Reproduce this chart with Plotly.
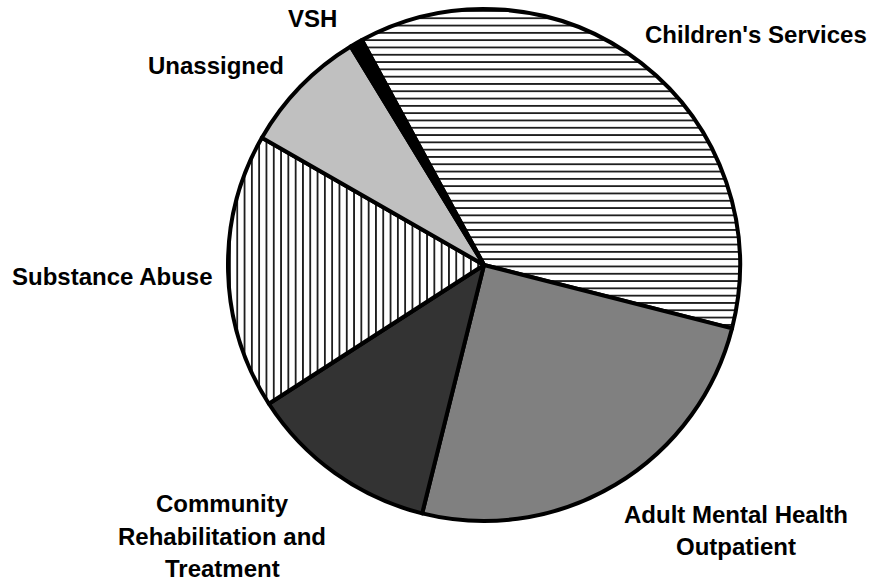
import plotly.graph_objects as go

categories = ["Children's Services", "Adult Mental Health Outpatient",
              "Community Rehabilitation and Treatment", "Substance Abuse",
              "Unassigned", "VSH"]
values = [36.9, 24.9, 12.0, 17.4, 8.0, 0.8]
label_lines = [["Children's Services"], ["Adult Mental Health", "Outpatient"],
               ["Community", "Rehabilitation and", "Treatment"], ["Substance Abuse"],
               ["Unassigned"], ["VSH"]]
fill_colors = ["white", "#808080", "#333333", "white", "#c0c0c0", "black"]
patterns = ["-", "", "", "|", "", ""]

W, H = 876, 582
cx, cy, r = 484, 265, 256

fig = go.Figure(go.Pie(
    labels=categories,
    values=values,
    sort=False,
    direction="clockwise",
    rotation=331.5,
    textinfo="none",
    hoverinfo="label+percent",
    showlegend=False,
    marker=dict(
        colors=fill_colors,
        line=dict(color="black", width=4),
        pattern=dict(shape=patterns, fgcolor="black", bgcolor=fill_colors,
                     size=7.3, solidity=0.22, fillmode="replace"),
    ),
    domain=dict(x=[(cx - r) / W, (cx + r) / W], y=[(H - cy - r) / H, (H - cy + r) / H]),
))

# label line positions (pixel centres) for each category's label lines
line_pos = [[(756, 34)], [(736, 514), (736, 546)],
            [(222, 503), (222, 536), (222, 568)], [(112, 276)],
            [(216, 65)], [(312, 19)]]
for lines, poss in zip(label_lines, line_pos):
    for txt, (px, py) in zip(lines, poss):
        fig.add_annotation(text=txt, x=px / W, y=1 - py / H, xref="paper", yref="paper",
                           xanchor="center", yanchor="middle", showarrow=False,
                           font=dict(family="Liberation Sans, Arial, sans-serif", size=24,
                                     color="black", weight="bold"))

fig.update_layout(width=W, height=H, margin=dict(l=0, r=0, t=0, b=0),
                  paper_bgcolor="white", plot_bgcolor="white")
fig.write_html("out.html", config={"displayModeBar": False},
               post_script="document.body.style.margin='0';document.body.style.overflow='hidden';")
